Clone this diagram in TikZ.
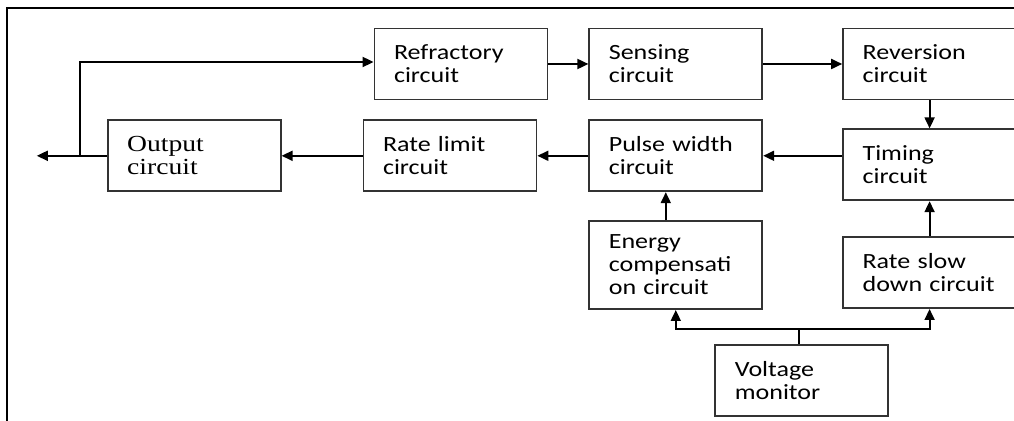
\documentclass[tikz,border=0pt]{standalone}
\usepackage{fontspec}
\setmainfont[FakeStretch=1.2]{Carlito}
\newfontfamily\outfont[FakeStretch=1.2]{Liberation Serif}
\usetikzlibrary{arrows.meta, positioning}

\begin{document}
\begin{tikzpicture}[
  node distance=9.5pt and 20pt,
  box/.style={rectangle, draw=black!80, line width=0.9pt, fill=white,
              minimum width=86.5pt, minimum height=35.5pt,
              text width=67pt, inner xsep=9.75pt, align=left,
              font=\fontsize{10.85}{11.5}\selectfont},
  arr/.style={-{Triangle[length=5.5pt, width=5pt]}, line width=0.9pt},
  frame/.style={line width=1.25pt}
]
\useasboundingbox (0pt,0pt) rectangle (507pt,-210.5pt);

% --- outer frame (left and top only) ---
\draw[frame] (3.5pt,-210.5pt) -- (3.5pt,-4pt) -- (507pt,-4pt);

% --- Top row ---
\node[box] (refr) at (230.5pt,-32pt) {Refractory\\circuit};
\node[box, right=20pt of refr]   (sens) {Sensing\\circuit};
\node[box, right=39.5pt of sens] (rev)  {Reversion\\circuit};

% --- Middle row ---
\node[box, below=14pt of rev]      (timing) {Timing\\circuit};
\node[box, below=of sens]          (pulse)  {Pulse width\\circuit};
\node[box, left=25.5pt of pulse]   (ratelim) {Rate limit\\circuit};
\node[box, left=40.5pt of ratelim, font=\outfont\fontsize{11.5}{11.5}\selectfont] (output) {Output\\circuit};

% --- Bottom row ---
\node[box, below=14pt of pulse, minimum height=44pt] (energy) {Energy\\compensati\\on circuit};
\node[box, below=17.5pt of timing] (slow) {Rate slow\\down circuit};
\node[box, below=17pt of energy, xshift=63pt] (volt) {Voltage\\monitor};

\coordinate[left=35pt of output] (outend);
\coordinate[above=7.5pt of volt, xshift=-1.5pt] (split);

\draw[arr] (output.west) -- (outend);
\draw[arr] ([xshift=-13.5pt]output.west) |- ([yshift=1pt]refr.west);
\draw[arr] (refr) -- (sens);
\draw[arr] (sens) -- (rev);
\draw[arr] (rev) -- (timing);
\draw[arr] (timing.west |- pulse.east) -- (pulse.east);
\draw[arr] (pulse) -- (ratelim);
\draw[arr] (ratelim) -- (output);
\draw[arr] ([xshift=-5pt]energy.north) -- ([xshift=-5pt]pulse.south);
\draw[arr] (slow) -- (timing);
\draw[arr] ([xshift=-1.5pt]volt.north) -- (split) -| (energy.south);
\draw[arr] (split) -| (slow.south);

\end{tikzpicture}
\end{document}
